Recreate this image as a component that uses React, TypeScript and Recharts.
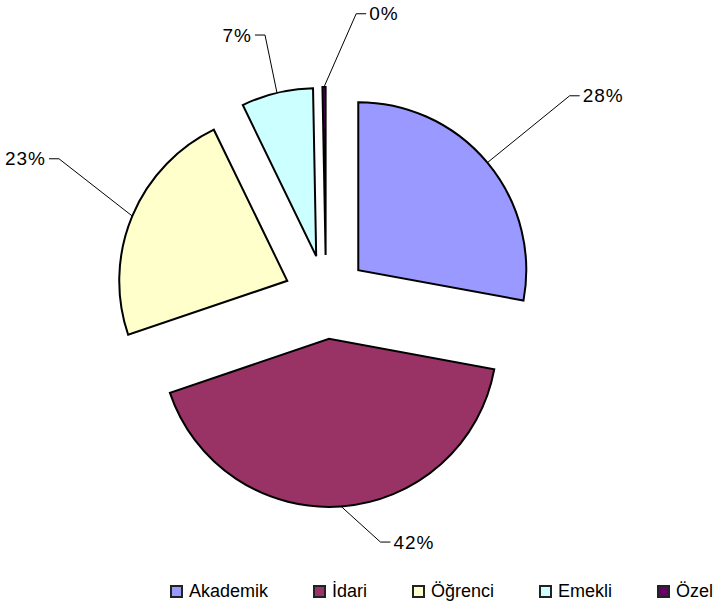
import React from 'react';
import { PieChart, Pie, Sector, Legend } from 'recharts';

// personel dağılımı
const categories = ['Akademik', 'İdari', 'Öğrenci', 'Emekli', 'Özel'];
const shares = [27.9, 41.9, 23.0, 6.9, 0.3];
const colors = ['#9999FF', '#993366', '#FFFFCC', '#CCFFFF', '#660066'];

// leader line direction (deg, clockwise from 12 o'clock) and length for each label
const leaderDirs = [50.9, 132.2, 308, 348.3, 23.7];
const leaderLens = [106, 53, 93, 59, 80];

const data = categories.map((name, i) => ({ name, value: shares[i] }));

const EXPLODE = 42;
const RADIAN = Math.PI / 180;
const FONT = '"Liberation Sans", Arial, sans-serif';

const renderSlice = (props: any) => {
  const { cx, cy, midAngle, outerRadius, startAngle, endAngle, percent, index } = props;
  const ox = cx + EXPLODE * Math.cos(-midAngle * RADIAN);
  const oy = cy + EXPLODE * Math.sin(-midAngle * RADIAN);
  const ax = ox + outerRadius * Math.cos(-midAngle * RADIAN);
  const ay = oy + outerRadius * Math.sin(-midAngle * RADIAN);
  const lx = ax + leaderLens[index] * Math.sin(leaderDirs[index] * RADIAN);
  const ly = ay - leaderLens[index] * Math.cos(leaderDirs[index] * RADIAN);
  const side = lx >= ax ? 1 : -1;
  const ex = lx + side * 10;
  return (
    <g>
      <Sector
        cx={ox}
        cy={oy}
        innerRadius={0}
        outerRadius={outerRadius}
        startAngle={startAngle}
        endAngle={endAngle}
        fill={colors[index]}
        stroke="#000"
        strokeWidth={2}
        strokeLinejoin="miter"
      />
      <polyline
        points={`${ax},${ay} ${lx},${ly} ${ex},${ly}`}
        fill="none"
        stroke="#000"
        strokeWidth={1}
      />
      <text
        x={ex + side * 3}
        y={ly}
        textAnchor={side > 0 ? 'start' : 'end'}
        dominantBaseline="central"
        fontFamily={FONT}
        fontSize={19}
        letterSpacing={1}
        fill="#000"
      >
        {Math.round(percent * 100)}%
      </text>
    </g>
  );
};

const renderLegend = () => (
  <div style={{ display: 'flex', gap: 45, fontFamily: FONT, fontSize: 18, whiteSpace: 'nowrap' }}>
    {categories.map((name, i) => (
      <div key={name} style={{ display: 'flex', alignItems: 'center' }}>
        <span
          style={{
            display: 'inline-block',
            width: 9,
            height: 9,
            background: colors[i],
            border: '2px solid #222',
            marginRight: 6,
          }}
        />
        <span>{name}</span>
      </div>
    ))}
  </div>
);

export default function App() {
  return (
    <div style={{ position: 'absolute', left: 0, top: 0, background: '#fff' }}>
      <PieChart width={722} height={610} margin={{ top: 0, right: 0, bottom: 0, left: 0 }}>
        <Pie
          data={data}
          dataKey="value"
          nameKey="name"
          cx={326}
          cy={297}
          outerRadius={168}
          startAngle={90}
          endAngle={-270}
          fill="none"
          stroke="none"
          label={renderSlice}
          labelLine={false}
          isAnimationActive={false}
        />
        <Legend
          content={renderLegend}
          wrapperStyle={{ left: 170, top: 581, bottom: 'auto', width: 'auto' }}
        />
      </PieChart>
    </div>
  );
}
